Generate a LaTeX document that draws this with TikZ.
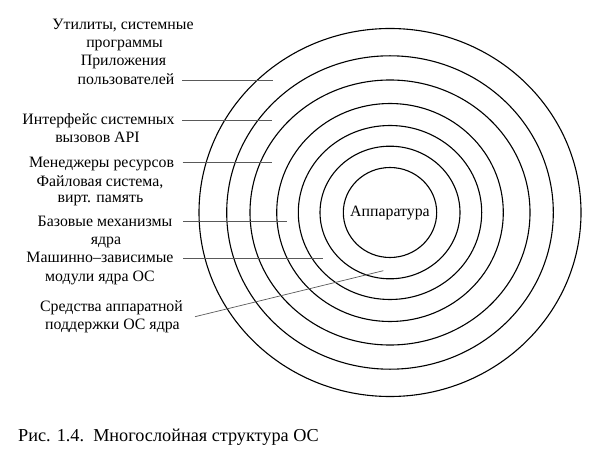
\documentclass[tikz,border=0pt]{standalone}
\usepackage{fontspec}
\setmainfont{Liberation Serif}
\usetikzlibrary{shapes.geometric}
\begin{document}
\begin{tikzpicture}[x=1bp,y=-1bp,
  ring/.style={ellipse,draw=black,line width=1.1bp,inner sep=0pt},
  lbl/.style={anchor=base,inner sep=0pt,font=\fontsize{15.9}{18}\selectfont,text=black},
  leader/.style={draw=black!65,line width=0.7bp}]
\useasboundingbox (0,0) rectangle (601,452);
% rings
\foreach \i/\rx/\ry in {7/191/184,6/163.3/156.7,5/140/132.5,4/113.3/109,3/91.7/87,2/70/66.3}{
  \node[ring,minimum width=2*\rx bp,minimum height=2*\ry bp] (r\i) at (390,212.5) {};
}
\node[ring,minimum width=93.4bp,minimum height=90bp] (r1) at (390,212.5) {};
\node[lbl,anchor=center] (hw) at (390,213) {Аппаратура};
% labels
\node[lbl] (a1) at (123,30) {Утилиты, системные};
\node[lbl] (a2) at (124.5,48) {программы};
\node[lbl] (a3) at (123.5,66) {Приложения};
\node[lbl] (a4) at (126,85) {пользователей};
\node[lbl] (b1) at (98.5,125) {Интерфейс системных};
\node[lbl] (b2) at (97.5,143) {вызовов API};
\node[lbl] (c1) at (101.5,167.5) {Менеджеры ресурсов};
\node[lbl] (c2) at (100,186.5) {Файловая система,};
\node[lbl] (c3) at (100.5,203) {вирт. память};
\node[lbl] (d1) at (105,226.5) {Базовые механизмы};
\node[lbl] (d2) at (106,245) {ядра};
\node[lbl] (e1) at (100,263) {Машинно–зависимые};
\node[lbl] (e2) at (100,281.5) {модули ядра ОС};
\node[lbl] (f1) at (111.5,311) {Средства аппаратной};
\node[lbl] (f2) at (112.5,329) {поддержки ОС ядра};
% leader lines
\coordinate (s1) at (182,80);   \coordinate (t1) at (272.5,80);
\coordinate (s2) at (182,120.7); \coordinate (t2) at (272,120.7);
\coordinate (s3) at (182.7,162.7); \coordinate (t3) at (271.7,162.7);
\coordinate (s4) at (183,221.7); \coordinate (t4) at (287.3,221.7);
\coordinate (s5) at (183,258.5); \coordinate (t5) at (322.7,258.5);
\coordinate (s6) at (195,316.7); \coordinate (t6) at (383.3,270.7);
\foreach \k in {1,...,6}{ \draw[leader] (s\k) -- (t\k); }
% caption
\node[anchor=base west,inner sep=0pt,font=\fontsize{18.3}{21}\selectfont] (cap) at (18,441) {Рис. 1.4.\ \ Многослойная структура ОС};
\end{tikzpicture}
\end{document}
